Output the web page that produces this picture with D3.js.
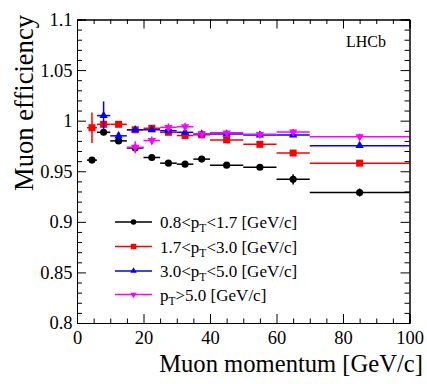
<!DOCTYPE html>
<html><head><meta charset="utf-8">
<script src="https://cdn.jsdelivr.net/npm/d3@7"></script>
<style>
html,body{margin:0;padding:0;background:#fff;}
svg text{font-family:"Liberation Serif","Tinos","Times New Roman","DejaVu Serif",serif;}
</style></head>
<body><svg id="c" width="427" height="384"></svg>
<script>
// ---- data ----
const binLo   = [3, 6, 10, 15, 20, 25, 30, 35, 40, 50, 60, 70];
const binHi   = [6, 10, 15, 20, 25, 30, 35, 40, 50, 60, 70, 100];
const effLow  = [0.961, 0.9885, 0.980, 0.973, 0.9636, 0.958, 0.957, 0.962, 0.956, 0.954, 0.942, 0.929];
const errLow  = [0.002, 0.002, 0.002, 0.002, 0.002, 0.002, 0.002, 0.002, 0.002, 0.002, 0.005, 0.004];
const effMid  = [0.993, 0.9964, 0.9964, 0.991, 0.9925, 0.9885, 0.9853, 0.986, 0.981, 0.9766, 0.968, 0.958];
const errMid  = [0.015, 0.003, 0.002, 0.002, 0.002, 0.002, 0.002, 0.002, 0.002, 0.002, 0.002, 0.002];
const effHigh = [null, 1.005, 0.985, 0.991, 0.991, 0.990, 0.9885, 0.9868, 0.9868, 0.9858, 0.9858, 0.9753];
const errHigh = [null, 0.014, 0.004, 0.002, 0.002, 0.002, 0.002, 0.002, 0.002, 0.002, 0.002, 0.002];
const effVHigh= [null, null, null, 0.9737, 0.9804, 0.9934, 0.994, 0.9868, 0.988, 0.9865, 0.9888, 0.9842];
const errVHigh= [null, null, null, 0.006, 0.004, 0.004, 0.004, 0.002, 0.002, 0.002, 0.003, 0.003];
const seriesNames = ["0.8<p_T<1.7 [GeV/c]", "1.7<p_T<3.0 [GeV/c]", "3.0<p_T<5.0 [GeV/c]", "p_T>5.0 [GeV/c]"];
const xTicks = [0, 20, 40, 60, 80, 100];
const yTicks = [0.8, 0.85, 0.9, 0.95, 1, 1.05, 1.1];
const yTickLabels = ["0.8", "0.85", "0.9", "0.95", "1", "1.05", "1.1"];

const series = [
  {name: seriesNames[0], eff: effLow,  err: errLow,  color: "#000000", sym: d3.symbolCircle, size: 40, rot: 0},
  {name: seriesNames[1], eff: effMid,  err: errMid,  color: "#ff0000", sym: d3.symbolSquare, size: 49, rot: 0},
  {name: seriesNames[2], eff: effHigh, err: errHigh, color: "#0000ff", sym: d3.symbolTriangle, size: 30, rot: 0},
  {name: seriesNames[3], eff: effVHigh,err: errVHigh,color: "#ff00ff", sym: d3.symbolTriangle, size: 30, rot: 180}
];

const FONT = "Liberation Serif";
const L = 77, R = 409.5, T = 19.5, B = 323;
const x = d3.scaleLinear().domain([0, 100]).range([L, R]);
const y = d3.scaleLinear().domain([0.8, 1.1]).range([B, T]);
const svg = d3.select("#c");

// scale a text's font size so that its rendered length matches a target width
function fit(sel, target) {
  const n = sel.node();
  const base = +sel.attr("font-size");
  const w = n.getComputedTextLength();
  if (w > 0) sel.attr("font-size", (base * target / w).toFixed(2));
  return sel;
}

// ---- data marks ----
series.forEach(s => {
  const g = svg.append("g");
  const pts = s.eff.map((v, i) => ({v, e: s.err[i], lo: binLo[i], hi: binHi[i]})).filter(d => d.v != null);
  g.selectAll("line.h").data(pts).enter().append("line")
    .attr("x1", d => x(d.lo)).attr("x2", d => x(d.hi))
    .attr("y1", d => y(d.v)).attr("y2", d => y(d.v))
    .attr("stroke", s.color).attr("stroke-width", 1.5);
  g.selectAll("line.v").data(pts).enter().append("line")
    .attr("x1", d => x((d.lo + d.hi) / 2)).attr("x2", d => x((d.lo + d.hi) / 2))
    .attr("y1", d => y(d.v - d.e)).attr("y2", d => y(d.v + d.e))
    .attr("stroke", s.color).attr("stroke-width", 1.5);
  g.selectAll("path").data(pts).enter().append("path")
    .attr("d", d3.symbol().type(s.sym).size(s.size))
    .attr("transform", d => `translate(${x((d.lo + d.hi) / 2)},${y(d.v)}) rotate(${s.rot})`)
    .attr("fill", s.color);
});

// ---- axes ----
const fontTick = 18.5;
function styleAxis(g) { g.attr("font-family", FONT); g.select(".domain").attr("stroke", "#000").attr("stroke-width", 1); g.selectAll("line").attr("stroke", "#000"); }
const xMinor = d3.range(0, 101, 5).filter(v => v % 20 !== 0);
const yMinor = d3.range(80, 111, 1).map(v => v / 100).filter(v => Math.round(v * 100) % 5 !== 0);

// bottom
svg.append("g").attr("transform", `translate(0,${B})`)
  .call(d3.axisBottom(x).tickValues(xTicks).tickSize(-9).tickPadding(0).tickFormat(d3.format("d")))
  .call(styleAxis)
  .call(g => g.selectAll("text").attr("font-size", fontTick).attr("fill", "#000")
     .attr("y", 20.5).attr("dy", null));
svg.append("g").attr("transform", `translate(0,${B})`)
  .call(d3.axisBottom(x).tickValues(xMinor).tickSize(-4.5).tickFormat(""))
  .call(styleAxis);
// top
svg.append("g").attr("transform", `translate(0,${T})`)
  .call(d3.axisTop(x).tickValues(xTicks).tickSize(-9).tickFormat(""))
  .call(styleAxis);
svg.append("g").attr("transform", `translate(0,${T})`)
  .call(d3.axisTop(x).tickValues(xMinor).tickSize(-4.5).tickFormat(""))
  .call(styleAxis);
// left
svg.append("g").attr("transform", `translate(${L},0)`)
  .call(d3.axisLeft(y).tickValues(yTicks).tickSize(-9).tickFormat((d, i) => yTickLabels[i]))
  .call(styleAxis)
  .call(g => g.selectAll("text").attr("font-size", fontTick).attr("fill", "#000").attr("x", -4.5));
svg.append("g").attr("transform", `translate(${L},0)`)
  .call(d3.axisLeft(y).tickValues(yMinor).tickSize(-5).tickFormat(""))
  .call(styleAxis);
// right
svg.append("g").attr("transform", `translate(${R},0)`)
  .call(d3.axisRight(y).tickValues(yTicks).tickSize(-9).tickFormat(""))
  .call(styleAxis);
svg.append("g").attr("transform", `translate(${R},0)`)
  .call(d3.axisRight(y).tickValues(yMinor).tickSize(-5).tickFormat(""))
  .call(styleAxis);

// ---- titles ----
svg.append("text").attr("text-anchor", "end").attr("font-family", FONT)
  .attr("x", 423).attr("y", 372)
  .attr("font-size", 22).text("Muon momentum [GeV/c]").call(s => fit(s, 264));
svg.append("text").attr("text-anchor", "end").attr("font-family", FONT)
  .attr("transform", `translate(33,15) rotate(-90)`)
  .attr("font-size", 22).text("Muon efficiency").call(s => fit(s, 176));
svg.append("text").attr("x", 346).attr("y", 47).attr("font-size", 17).attr("font-family", FONT)
  .text("LHCb").call(s => fit(s, 40));

// ---- legend ----
const legY = [222, 246.5, 271, 294.5];
series.forEach((s, i) => {
  const g = svg.append("g").attr("transform", `translate(0,${legY[i]})`);
  g.append("line").attr("x1", 115).attr("x2", 152).attr("y1", 0).attr("y2", 0)
    .attr("stroke", s.color).attr("stroke-width", 1.5);
  g.append("path").attr("d", d3.symbol().type(s.sym).size(s.size * 0.6))
    .attr("transform", `translate(133.5,0) rotate(${s.rot})`).attr("fill", s.color);
  const parts = s.name.split("_T");
  const t = g.append("text").attr("x", 160).attr("y", 6).attr("font-size", 17).attr("font-family", FONT);
  t.append("tspan").text(parts[0]);
  t.append("tspan").attr("font-size", 11.5).attr("dy", 4).text("T");
  t.append("tspan").attr("dy", -4).text(parts[1]);
});
</script></body></html>
